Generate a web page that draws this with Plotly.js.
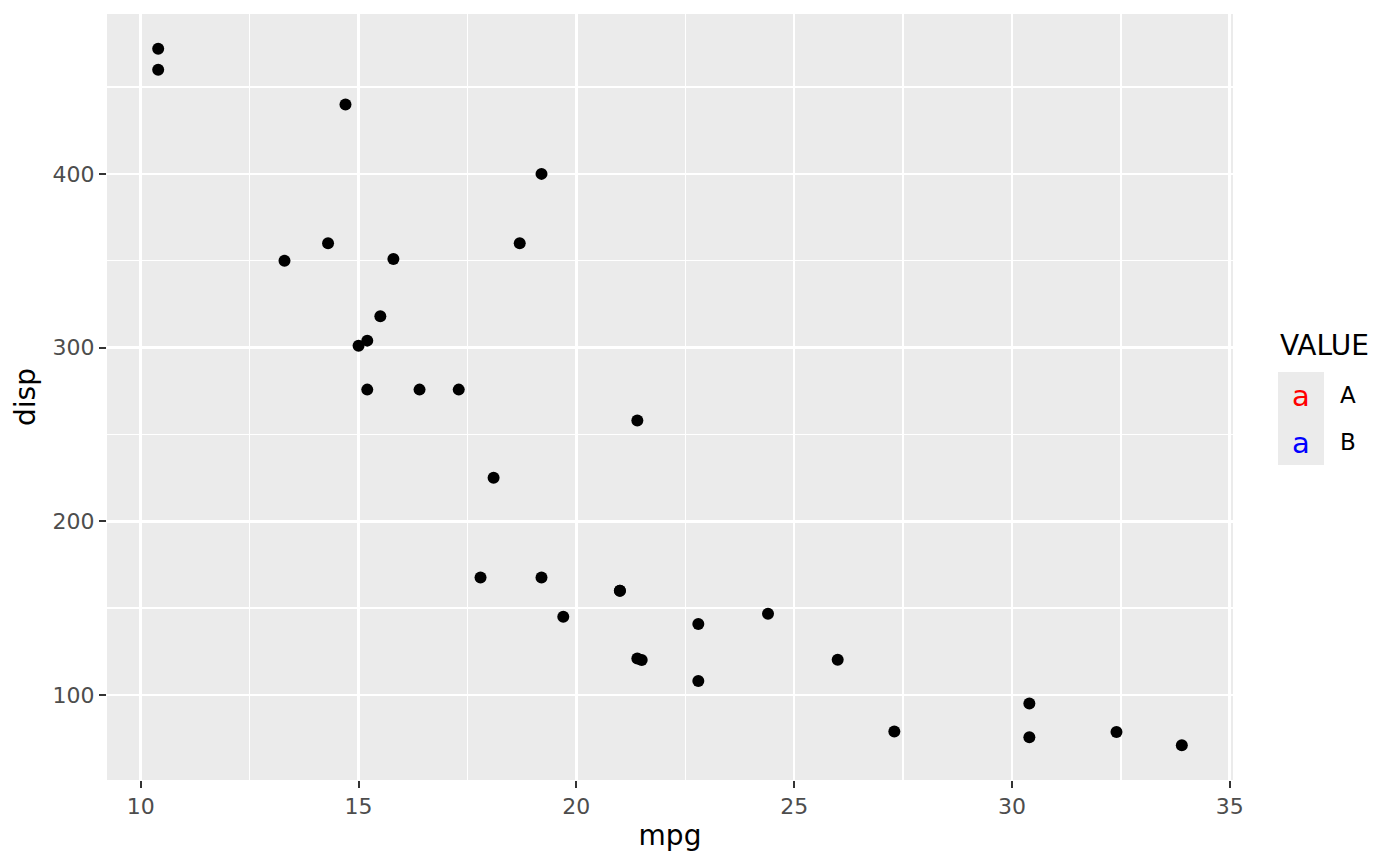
<!DOCTYPE html>
<html>
<head>
<meta charset="utf-8">
<script src="https://cdn.plot.ly/plotly-3.0.1.min.js"></script>
<style>html,body{margin:0;padding:0;background:#fff;}#chart{width:1400px;height:865px;}</style>
</head>
<body>
<div id="chart"></div>
<script>
// mtcars: mpg vs disp
const mpg = [21.0, 21.0, 22.8, 21.4, 18.7, 18.1, 14.3, 24.4, 22.8, 19.2, 17.8, 16.4, 17.3, 15.2, 10.4, 10.4,
             14.7, 32.4, 30.4, 33.9, 21.5, 15.5, 15.2, 13.3, 19.2, 27.3, 26.0, 30.4, 15.8, 19.7, 15.0, 21.4];
const disp = [160, 160, 108, 258, 360, 225, 360, 146.7, 140.8, 167.6, 167.6, 275.8, 275.8, 275.8, 472, 460,
              440, 78.7, 75.7, 71.1, 120.1, 318, 304, 350, 400, 79, 120.3, 95.1, 351, 145, 301, 121];
const xTicks = [10, 15, 20, 25, 30, 35];
const yTicks = [100, 200, 300, 400];
const legendTitle = "VALUE";
const legendLabels = ["A", "B"];
const legendColors = ["#FF0000", "#0000FF"];
const legendSymbol = "a";

const W = 1400, H = 865;
const L = 107, R = 167, T = 14, B = 85;
const pw = W - L - R, ph = H - T - B;
const px = x => (x - L) / pw;
const py = y => (H - B - y) / ph;

const font = "DejaVu Sans, Liberation Sans, sans-serif";

const annotations = [];
const shapes = [];
annotations.push({xref: 'paper', yref: 'paper', x: px(1278), y: py(345), xanchor: 'left', yanchor: 'middle',
  text: legendTitle, showarrow: false, font: {family: font, size: 28, color: '#000'}});
const keyTop = 372, keyH = 46.5;
shapes.push({type: 'rect', xref: 'paper', yref: 'paper', x0: px(1278), x1: px(1324),
  y0: py(keyTop + keyH * legendLabels.length), y1: py(keyTop), fillcolor: '#EBEBEB', line: {width: 0}, layer: 'below'});
legendLabels.forEach((lab, i) => {
  const cy = keyTop + keyH * (i + 0.5);
  annotations.push({xref: 'paper', yref: 'paper', x: px(1301), y: py(cy + 1), xanchor: 'center', yanchor: 'middle',
    text: legendSymbol, showarrow: false, font: {family: font, size: 29, color: legendColors[i]}});
  annotations.push({xref: 'paper', yref: 'paper', x: px(1338), y: py(cy), xanchor: 'left', yanchor: 'middle',
    text: lab, showarrow: false, font: {family: font, size: 23, color: '#000'}});
});

const trace = {x: mpg, y: disp, type: 'scatter', mode: 'markers',
  marker: {color: '#000', size: 12, line: {width: 0}}, hoverinfo: 'x+y', showlegend: false};

const layout = {
  width: W, height: H,
  margin: {l: L, r: R, t: T, b: B, pad: 0},
  paper_bgcolor: '#fff', plot_bgcolor: '#EBEBEB',
  font: {family: font},
  showlegend: false,
  xaxis: {
    range: [9.225, 35.075], tickvals: xTicks, ticktext: xTicks.map(String),
    showgrid: true, gridcolor: '#fff', gridwidth: 2.7, zeroline: false, showline: false,
    ticks: 'outside', ticklen: 7, tickwidth: 2, tickcolor: '#333',
    tickfont: {family: font, size: 22, color: '#4D4D4D'},
    minor: {dtick: 2.5, tick0: 0, showgrid: true, gridcolor: '#fff', gridwidth: 1.4, ticks: ''},
    title: {text: 'mpg', font: {family: font, size: 28, color: '#000'}, standoff: 6}
  },
  yaxis: {
    range: [51.055, 492.045], tickvals: yTicks, ticktext: yTicks.map(String),
    showgrid: true, gridcolor: '#fff', gridwidth: 2.7, zeroline: false, showline: false,
    ticks: 'outside', ticklen: 7, tickwidth: 2, tickcolor: '#333',
    tickfont: {family: font, size: 22, color: '#4D4D4D'},
    minor: {dtick: 50, tick0: 0, showgrid: true, gridcolor: '#fff', gridwidth: 1.4, ticks: ''},
    title: {text: 'disp', font: {family: font, size: 28, color: '#000'}, standoff: 8}
  },
  annotations: annotations,
  shapes: shapes
};

Plotly.newPlot('chart', [trace], layout, {displayModeBar: false, staticPlot: true});
</script>
</body>
</html>
